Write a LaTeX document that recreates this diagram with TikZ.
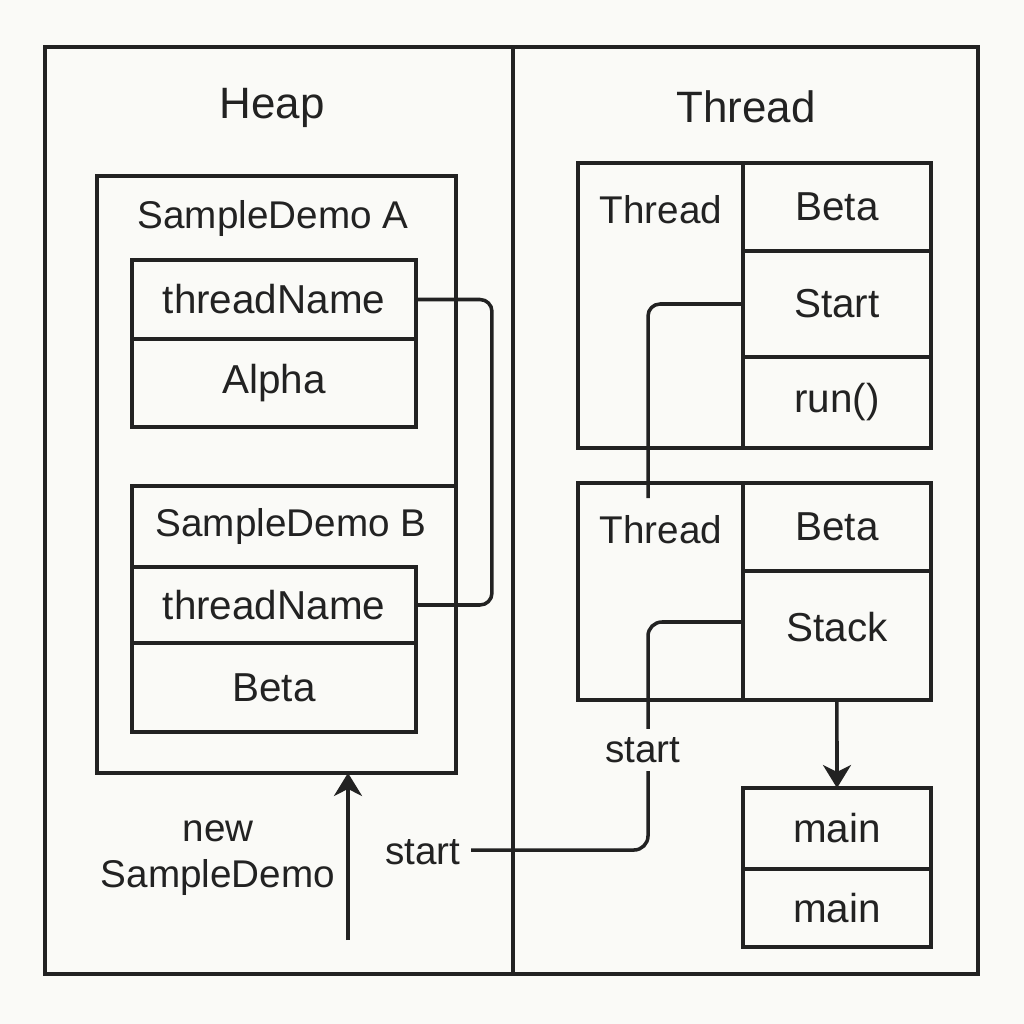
\documentclass[tikz,border=0pt]{standalone}
\usepackage{fontspec}
\setmainfont{Liberation Sans}
\usetikzlibrary{arrows.meta,positioning,calc}
\definecolor{paper}{HTML}{FAFAF7}
\definecolor{ink}{HTML}{222222}

\begin{document}
\begin{tikzpicture}[x=0.02cm,y=-0.02cm,line width=2pt,color=ink,
  cell/.style={draw,rectangle,outer sep=0pt,inner sep=0pt,node distance=0pt,
    font=\fontsize{23}{27}\selectfont},
  wcell/.style={cell,minimum width=5.68cm},
  tcell/.style={cell,minimum width=3.76cm},
  txt/.style={font=\fontsize{22}{26}\selectfont,inner sep=1pt},
  ttl/.style={font=\fontsize{25}{29}\selectfont},
  arr/.style={-{Stealth[length=0.46cm,width=0.56cm,inset=0.14cm]}}]

        \fill[paper] (0,0) rectangle (1024,1024);
        \draw (45,47) rectangle (978,974);
        \draw (513,47) -- (513,974);

        \node[ttl] (heap) at (272,108) {Heap};
        \node[ttl] (thread) at (746,107) {Thread};

        % heap side
        \node[cell,minimum width=7.18cm,minimum height=11.94cm] (objA) at (276.5,474.5) {};
        \node[txt] (titleA) at (273,219) {SampleDemo A};
        \node[wcell,minimum height=1.58cm] (nameA) at (274,299.5) {threadName};
        \node[wcell,minimum height=1.76cm,below=of nameA] (alpha) {Alpha};

        \node[wcell,minimum height=1.52cm] (nameB) at (274,605) {threadName};
        \node[wcell,minimum height=1.78cm,below=of nameB] (betaB) {Beta};
        \draw (nameB.north west) |- (456,486);
        \node[txt] (titleB) at (291,527) {SampleDemo B};

        \draw[rounded corners=0.24cm] (nameA.east) -- ++(76,0) |- (nameB.east);

        \coordinate (newtail) at (348,940);
        \draw[arr] (newtail) -- (newtail |- objA.south);
        \node[txt,align=center] (newlbl) at (218,858) {new\\SampleDemo};

        % thread side
        \node[cell,minimum width=3.3cm,minimum height=5.7cm] (thr1) at (660.5,305.5) {};
        \node[txt] (thr1lbl) at (661,210) {Thread};
        \node[tcell,minimum height=1.76cm,anchor=north west] (beta1) at (thr1.north east) {Beta};
        \node[tcell,minimum height=2.12cm,below=of beta1] (start1) {Start};
        \node[tcell,minimum height=1.82cm,below=of start1] (run1) {run()};

        \node[cell,minimum width=3.3cm,minimum height=4.34cm] (thr2) at (660.5,591.5) {};
        \node[txt] (thr2lbl) at (661,530) {Thread};
        \node[tcell,minimum height=1.76cm,anchor=north west] (beta2) at (thr2.north east) {Beta};
        \node[tcell,minimum height=2.58cm,below=of beta2] (stack) {};
        \node[txt,font=\fontsize{23}{27}\selectfont] (stacklbl) at ([yshift=0.16cm]stack.center) {Stack};

        \coordinate (drop) at (648,498);
        \draw[rounded corners=0.24cm] (start1.west) -| (drop);

        \node[tcell,minimum height=1.62cm] (mainA) at (837,828.5) {main};
        \node[tcell,minimum height=1.56cm,below=of mainA] (mainB) {main};
        \draw[arr] (stack.south) -- (mainA.north);

        \node[txt,inner sep=5pt] (startL) at (423,852) {start};
        \coordinate (bend) at (648,850);
        \draw[rounded corners=0.28cm] ([yshift=0.27cm]stack.west) -| (bend) -- (bend -| startL.east);
        \node[txt,fill=paper,inner sep=5pt] (startM) at (643,750) {start};
      \end{tikzpicture}
\end{document}
